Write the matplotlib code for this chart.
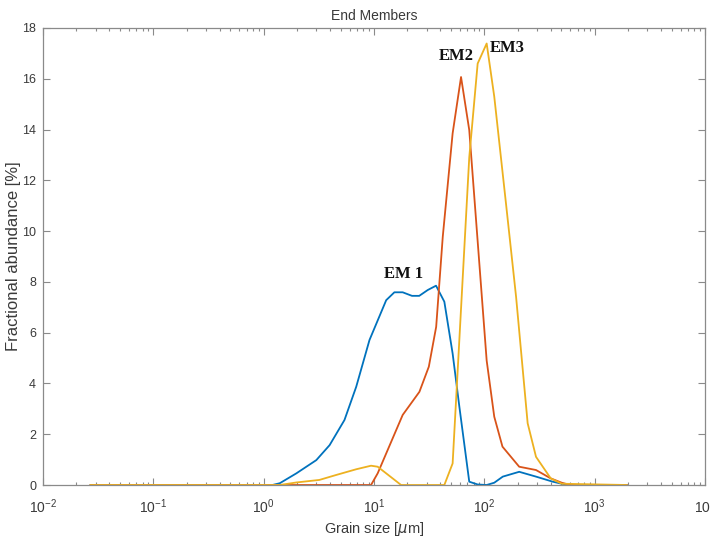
import numpy as np
import matplotlib
matplotlib.use("Agg")
import matplotlib.pyplot as plt
from matplotlib import font_manager
from matplotlib.ticker import LogLocator, NullFormatter

# grain size [um] and fractional abundance [%]
em1_x = [0.027, 1.2, 1.40, 1.98, 3.0, 3.96, 5.4, 6.9, 9.1, 12.9, 15.3, 18.2, 22.1, 25.7,
         30.7, 36.5, 43.4, 51.6, 59.4, 73, 87, 105, 123, 147, 207, 294, 417, 503, 600, 1950]
em1_y = [0, 0, 0.07, 0.46, 0.98, 1.57, 2.56, 3.87, 5.71, 7.28, 7.59, 7.59, 7.45, 7.45,
         7.68, 7.85, 7.22, 5.18, 3.08, 0.13, 0.02, 0.0, 0.09, 0.33, 0.52, 0.33, 0.13, 0.05, 0, 0]

em2_x = [0.027, 1.5, 9.4, 10.8, 18.2, 25.8, 31.4, 36.6, 42, 51.6, 61.5, 73, 87, 105,
         123, 146, 207, 294, 400, 503, 600, 1950]
em2_y = [0, 0, 0, 0.46, 2.76, 3.67, 4.66, 6.23, 9.78, 13.85, 16.07, 13.98, 9.6, 4.9,
         2.69, 1.51, 0.72, 0.59, 0.26, 0.09, 0, 0]

em3_x = [0.027, 1.4, 1.98, 3.2, 4.5, 6.9, 9.4, 10.8, 17.6, 43.4, 51.6, 73, 87, 105,
         123, 157, 194, 247, 294, 400, 503, 1950]
em3_y = [0, 0, 0.1, 0.2, 0.39, 0.62, 0.76, 0.72, 0.0, 0.0, 0.85, 12.9, 16.6, 17.39,
         15.3, 11.1, 7.41, 2.43, 1.11, 0.26, 0.05, 0]

labels = ["EM 1", "EM2", "EM3"]
label_pos = [(18.7, 8.33), (55.5, 16.89), (161, 17.22)]

names = {f.name for f in font_manager.fontManager.ttflist}
sans = "Liberation Sans Narrow" if "Liberation Sans Narrow" in names else "Liberation Sans"
plt.rcParams['font.family'] = [sans, 'DejaVu Sans']
plt.rcParams['mathtext.default'] = 'regular'

grey = '#8a8a8a'
txt = '#3a3a3a'

fig = plt.figure(figsize=(7.10, 5.41), dpi=100)
ax = fig.add_axes([43 / 710, 56 / 541, 662 / 710, 457 / 541])

ax.plot(em1_x, em1_y, color='#0072BD', lw=1.3)
ax.plot(em2_x, em2_y, color='#D95319', lw=1.3)
ax.plot(em3_x, em3_y, color='#EDB120', lw=1.3)

ax.set_xscale('log')
ax.set_xlim(1e-2, 1e4)
ax.set_ylim(0, 18)
ax.set_yticks(np.arange(0, 19, 2))
ax.xaxis.set_major_locator(LogLocator(base=10, numticks=10))
ax.xaxis.set_minor_locator(LogLocator(base=10, subs=np.arange(2, 10), numticks=20))
ax.xaxis.set_minor_formatter(NullFormatter())

for s in ax.spines.values():
    s.set_color(grey)
    s.set_linewidth(0.9)
ax.tick_params(which='both', direction='in', top=True, right=True, color=grey,
               labelcolor=txt, labelsize=9, width=0.8)
ax.tick_params(which='major', length=5)
ax.tick_params(which='minor', length=2.5)
ax.tick_params(axis='x', pad=9, labelsize=10)
ax.tick_params(axis='y', pad=5)

ax.set_title('End Members', fontsize=10, color=txt, pad=6)
ax.set_xlabel(r'Grain size [$\mathit{\mu}$m]', fontsize=10.5, color=txt, labelpad=3)
ax.set_ylabel('Fractional abundance [%]', fontsize=12, color=txt,
              family=['Liberation Sans', 'DejaVu Sans'])
ax.yaxis.set_label_coords(-0.033, 0.5)

for lab, (lx, ly) in zip(labels, label_pos):
    ax.text(lx, ly, lab, ha='center', va='center', fontsize=12, fontweight='bold',
            family=['Liberation Serif', 'DejaVu Serif'], color='#111111')

fig.savefig('out.png', dpi=100, facecolor='white')
